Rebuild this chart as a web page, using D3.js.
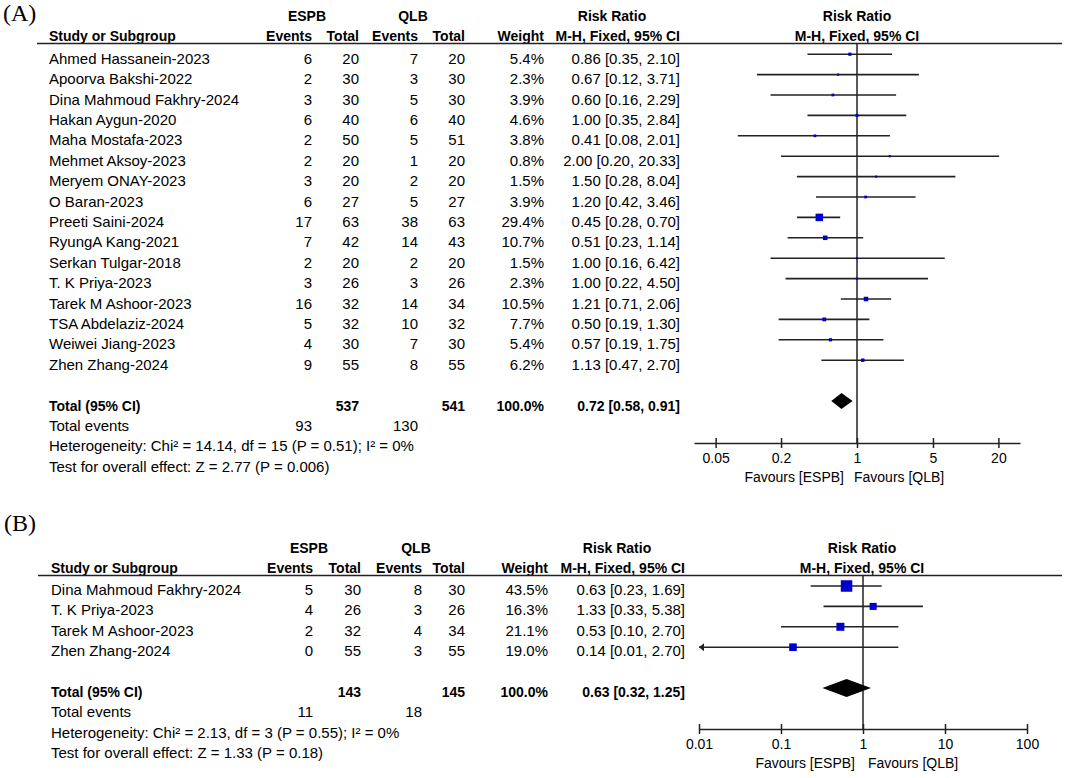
<!DOCTYPE html>
<html>
<head>
<meta charset="utf-8">
<script src="https://cdnjs.cloudflare.com/ajax/libs/d3/7.8.5/d3.min.js"></script>
<style>
body { margin: 0; background: #fff; }
text { font-family: "Liberation Sans", Arial, sans-serif; fill: #000; }
</style>
</head>
<body>
<script>
// ---- panel A data ----
var studiesA = ["Ahmed Hassanein-2023", "Apoorva Bakshi-2022", "Dina Mahmoud Fakhry-2024", "Hakan Aygun-2020",
    "Maha Mostafa-2023", "Mehmet Aksoy-2023", "Meryem ONAY-2023", "O Baran-2023", "Preeti Saini-2024",
    "RyungA Kang-2021", "Serkan Tulgar-2018", "T. K Priya-2023", "Tarek M Ashoor-2023", "TSA Abdelaziz-2024",
    "Weiwei Jiang-2023", "Zhen Zhang-2024"];
var espbEventsA = [6, 2, 3, 6, 2, 2, 3, 6, 17, 7, 2, 3, 16, 5, 4, 9];
var espbTotalA  = [20, 30, 30, 40, 50, 20, 20, 27, 63, 42, 20, 26, 32, 32, 30, 55];
var qlbEventsA  = [7, 3, 5, 6, 5, 1, 2, 5, 38, 14, 2, 3, 14, 10, 7, 8];
var qlbTotalA   = [20, 30, 30, 40, 51, 20, 20, 27, 63, 43, 20, 26, 34, 32, 30, 55];
var weightA     = [5.4, 2.3, 3.9, 4.6, 3.8, 0.8, 1.5, 3.9, 29.4, 10.7, 1.5, 2.3, 10.5, 7.7, 5.4, 6.2];
var rrA         = [0.86, 0.67, 0.60, 1.00, 0.41, 2.00, 1.50, 1.20, 0.45, 0.51, 1.00, 1.00, 1.21, 0.50, 0.57, 1.13];
var loA         = [0.35, 0.12, 0.16, 0.35, 0.08, 0.20, 0.28, 0.42, 0.28, 0.23, 0.16, 0.22, 0.71, 0.19, 0.19, 0.47];
var hiA         = [2.10, 3.71, 2.29, 2.84, 2.01, 20.33, 8.04, 3.46, 0.70, 1.14, 6.42, 4.50, 2.06, 1.30, 1.75, 2.70];
var totalsA = [537, 541];
var totalEventsA = [93, 130];
var pooledA = [0.72, 0.58, 0.91];
var hetA = "Heterogeneity: Chi\u00b2 = 14.14, df = 15 (P = 0.51); I\u00b2 = 0%";
var testA = "Test for overall effect: Z = 2.77 (P = 0.006)";
var ticksA = [0.05, 0.2, 1, 5, 20];

// ---- panel B data ----
var studiesB = ["Dina Mahmoud Fakhry-2024", "T. K Priya-2023", "Tarek M Ashoor-2023", "Zhen Zhang-2024"];
var espbEventsB = [5, 4, 2, 0];
var espbTotalB  = [30, 26, 32, 55];
var qlbEventsB  = [8, 3, 4, 3];
var qlbTotalB   = [30, 26, 34, 55];
var weightB     = [43.5, 16.3, 21.1, 19.0];
var rrB         = [0.63, 1.33, 0.53, 0.14];
var loB         = [0.23, 0.33, 0.10, 0.01];
var hiB         = [1.69, 5.38, 2.70, 2.70];
var totalsB = [143, 145];
var totalEventsB = [11, 18];
var pooledB = [0.63, 0.32, 1.25];
var hetB = "Heterogeneity: Chi\u00b2 = 2.13, df = 3 (P = 0.55); I\u00b2 = 0%";
var testB = "Test for overall effect: Z = 1.33 (P = 0.18)";
var ticksB = [0.01, 0.1, 1, 10, 100];

var svg = d3.select('body').append('svg')
    .attr('width', 1065)
    .attr('height', 778);

function drawPanel(p, d) {
    var g = svg.append('g');
    var col = p.col;   // right edges of the table columns

    g.append('text').attr('x', p.labelX).attr('y', p.labelY)
        .style('font-family', '"Liberation Serif", "Times New Roman", serif')
        .style('font-size', '24px')
        .text(p.label);

    // header
    var h1 = g.append('g').style('font-weight', 'bold').style('font-size', '14px');
    h1.append('text').attr('x', p.espbC).attr('y', p.head1).attr('text-anchor', 'middle').text('ESPB');
    h1.append('text').attr('x', p.qlbC).attr('y', p.head1).attr('text-anchor', 'middle').text('QLB');
    h1.append('text').attr('x', p.rrC).attr('y', p.head1).attr('text-anchor', 'middle').text('Risk Ratio');
    h1.append('text').attr('x', p.plotC).attr('y', p.head1).attr('text-anchor', 'middle').text('Risk Ratio');
    h1.append('text').attr('x', p.studyX).attr('y', p.head2).text('Study or Subgroup');
    var heads = ['Events', 'Total', 'Events', 'Total', 'Weight', 'M-H, Fixed, 95% CI'];
    heads.forEach(function(t, i) {
        h1.append('text').attr('x', col[i]).attr('y', p.head2).attr('text-anchor', 'end').text(t);
    });
    h1.append('text').attr('x', p.plotC).attr('y', p.head2).attr('text-anchor', 'middle').text('M-H, Fixed, 95% CI');

    g.append('line')
        .attr('x1', p.lineX).attr('x2', 1062)
        .attr('y1', p.lineY).attr('y2', p.lineY)
        .attr('stroke', '#222').attr('stroke-width', 1.5);

    // rows
    var n = d.studies.length;
    var y = d3.scaleLinear().domain([0, 1]).range([p.row0, p.row0 + p.rowH]);
    var x = d3.scaleLog().domain(p.domain).range(p.range);
    var size = d3.scaleSqrt().domain([0, d3.max(d.weight)]).range([0, p.maxBox]);

    var rows = g.append('g').style('font-size', '15px');
    d.studies.forEach(function(s, i) {
        var yy = y(i);
        rows.append('text').attr('x', p.studyX).attr('y', yy).text(s);
        var vals = [d.e1[i], d.t1[i], d.e2[i], d.t2[i], d.weight[i].toFixed(1) + '%',
            d.rr[i].toFixed(2) + ' [' + d.lo[i].toFixed(2) + ', ' + d.hi[i].toFixed(2) + ']'];
        vals.forEach(function(v, j) {
            rows.append('text').attr('x', col[j]).attr('y', yy).attr('text-anchor', 'end').text(v);
        });
    });

    // total rows
    var yt = y(n + 1);
    var tot = g.append('g').style('font-size', '14px').style('font-weight', 'bold');
    tot.append('text').attr('x', p.studyX).attr('y', yt).text('Total (95% CI)');
    tot.append('text').attr('x', col[1]).attr('y', yt).attr('text-anchor', 'end').text(d.totals[0]);
    tot.append('text').attr('x', col[3]).attr('y', yt).attr('text-anchor', 'end').text(d.totals[1]);
    tot.append('text').attr('x', col[4]).attr('y', yt).attr('text-anchor', 'end').text('100.0%');
    tot.append('text').attr('x', col[5]).attr('y', yt).attr('text-anchor', 'end')
        .text(d.pooled[0].toFixed(2) + ' [' + d.pooled[1].toFixed(2) + ', ' + d.pooled[2].toFixed(2) + ']');

    var foot = g.append('g').style('font-size', '15px');
    foot.append('text').attr('x', p.studyX).attr('y', y(n + 2)).text('Total events');
    foot.append('text').attr('x', col[0]).attr('y', y(n + 2)).attr('text-anchor', 'end').text(d.events[0]);
    foot.append('text').attr('x', col[2]).attr('y', y(n + 2)).attr('text-anchor', 'end').text(d.events[1]);
    foot.append('text').attr('x', p.studyX).attr('y', y(n + 3)).text(d.het);
    foot.append('text').attr('x', p.studyX).attr('y', y(n + 4)).text(d.test);

    // forest plot
    var plot = g.append('g');
    plot.append('line')
        .attr('x1', x(1)).attr('x2', x(1))
        .attr('y1', p.lineY).attr('y2', p.axisY)
        .attr('stroke', '#222').attr('stroke-width', 1.5);

    var lo = p.domain[0];
    d.studies.forEach(function(s, i) {
        var yy = y(i) - p.markUp;
        var left = Math.max(d.lo[i], lo);
        plot.append('line')
            .attr('x1', x(left)).attr('x2', x(d.hi[i]))
            .attr('y1', yy).attr('y2', yy)
            .attr('stroke', '#222').attr('stroke-width', 1.6);
        if (d.lo[i] <= lo) {
            var ax = x(lo);
            plot.append('path')
                .attr('d', 'M' + ax + ',' + yy + 'L' + (ax + 5) + ',' + (yy - 4) + 'L' + (ax + 5) + ',' + (yy + 4) + 'Z')
                .attr('fill', '#222');
        }
        var b = Math.max(size(d.weight[i]), 2.2);
        plot.append('rect')
            .attr('x', x(d.rr[i]) - b / 2).attr('y', yy - b / 2)
            .attr('width', b).attr('height', b)
            .attr('fill', '#0000cc');
    });

    var yd = yt - p.markUp;
    var dh = p.diamondH;
    plot.append('path')
        .attr('d', 'M' + x(d.pooled[1]) + ',' + yd + 'L' + x(d.pooled[0]) + ',' + (yd - dh) +
            'L' + x(d.pooled[2]) + ',' + yd + 'L' + x(d.pooled[0]) + ',' + (yd + dh) + 'Z')
        .attr('fill', '#000');

    var axis = d3.axisBottom(x)
        .tickValues(p.ticks)
        .tickFormat(function(v) { return v; })
        .tickSizeOuter(0)
        .tickSizeInner(5)
        .tickPadding(5);
    var ag = plot.append('g')
        .attr('transform', 'translate(0,' + p.axisY + ')')
        .call(axis);
    ag.select('.domain').attr('stroke', '#222').attr('stroke-width', 1.5);
    ag.selectAll('.tick line').attr('y1', -5).attr('y2', 5).attr('stroke', '#222').attr('stroke-width', 1.5);
    ag.selectAll('.tick text')
        .style('font-family', '"Liberation Sans", Arial, sans-serif')
        .style('font-size', '14px');

    plot.append('text').attr('x', x(1) + p.favL).attr('y', p.axisY + p.favDy)
        .attr('text-anchor', 'end').style('font-size', '14px').text('Favours [ESPB]');
    plot.append('text').attr('x', x(1) + p.favR).attr('y', p.axisY + p.favDy)
        .style('font-size', '14px').text('Favours [QLB]');
}

drawPanel({
    label: '(A)', labelX: 3, labelY: 21,
    head1: 21, head2: 41, lineY: 43.5, lineX: 37,
    studyX: 49, col: [312, 359, 418, 465, 544, 680],
    espbC: 307, qlbC: 413, rrC: 612, plotC: 857,
    row0: 63.7, rowH: 20.4, markUp: 9.5,
    domain: [Math.pow(10, -1.5), Math.pow(10, 1.5)], range: [694, 1020],
    ticks: ticksA, axisY: 443, maxBox: 7.5, diamondH: 8,
    favL: -13, favR: -3, favDy: 39
}, {
    studies: studiesA, e1: espbEventsA, t1: espbTotalA, e2: qlbEventsA, t2: qlbTotalA,
    weight: weightA, rr: rrA, lo: loA, hi: hiA,
    totals: totalsA, events: totalEventsA, pooled: pooledA, het: hetA, test: testA
});

drawPanel({
    label: '(B)', labelX: 4, labelY: 531,
    head1: 553, head2: 573, lineY: 575.5, lineX: 38,
    studyX: 51, col: [313, 361, 422, 465, 548, 685],
    espbC: 309, qlbC: 416, rrC: 617, plotC: 862,
    row0: 595, rowH: 20.4, markUp: 9,
    domain: [0.01, 100], range: [699, 1027],
    ticks: ticksB, axisY: 729, maxBox: 11.5, diamondH: 9,
    favL: -8, favR: 5, favDy: 39
}, {
    studies: studiesB, e1: espbEventsB, t1: espbTotalB, e2: qlbEventsB, t2: qlbTotalB,
    weight: weightB, rr: rrB, lo: loB, hi: hiB,
    totals: totalsB, events: totalEventsB, pooled: pooledB, het: hetB, test: testB
});
</script>
</body>
</html>
